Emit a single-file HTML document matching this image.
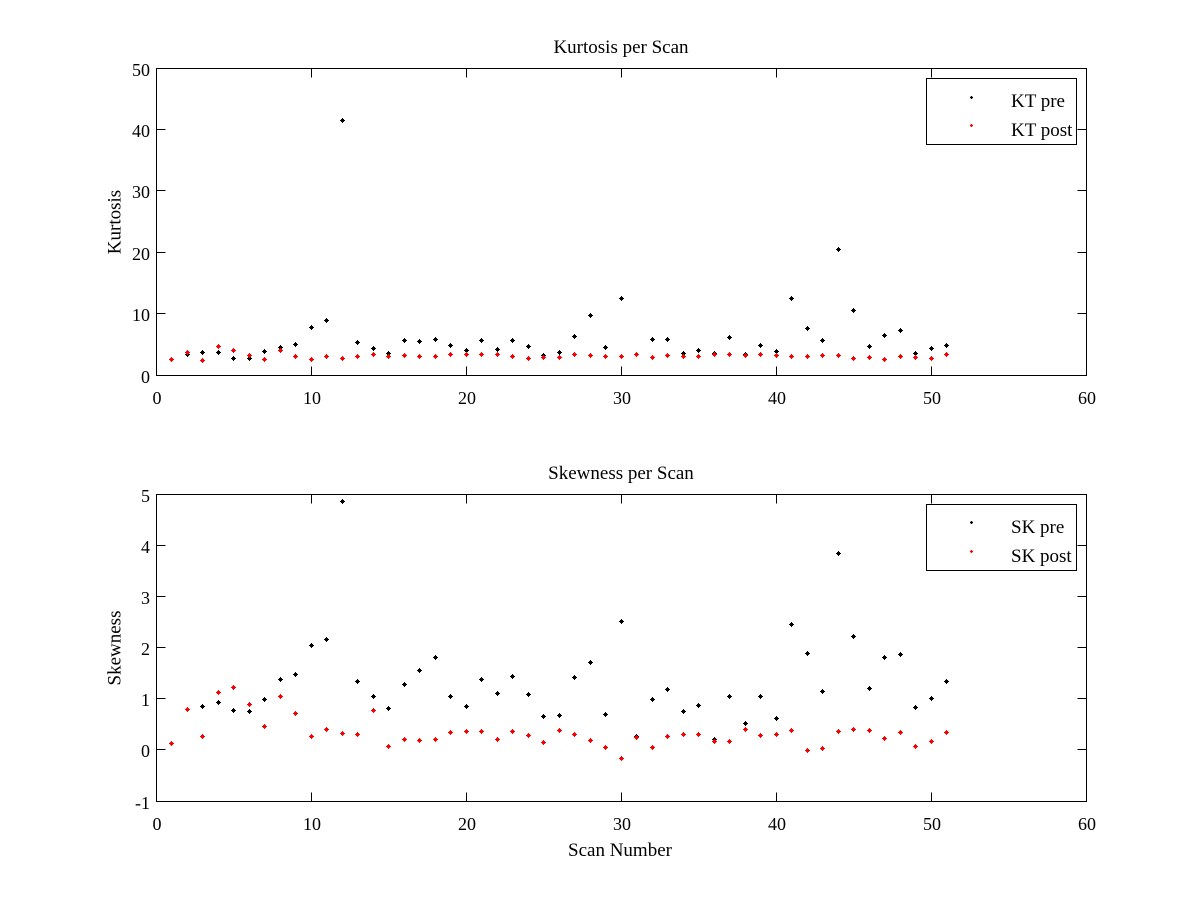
<!DOCTYPE html>
<html>
<head>
<meta charset="utf-8">
<style>
html,body{margin:0;padding:0;background:#fff;}
svg{display:block;}
text{font-family:"Liberation Serif","Times New Roman",serif;fill:#000;}
.tk{font-size:18px;}
.lb{font-size:19px;}
</style>
</head>
<body>
<svg width="1200" height="900" viewBox="0 0 1200 900" xmlns="http://www.w3.org/2000/svg">
<defs>
<path id="m" d="M-2.5,-0.5h5v1h-5zM-0.5,-2.5h1v5h-1zM-1.5,-1.5h3v3h-3z"/>
<path id="ms" d="M-1.5,-0.5h3v1h-3zM-0.5,-1.5h1v3h-1zM-1,-1h2v2h-2z"/>
</defs>
<rect x="0" y="0" width="1200" height="900" fill="#fff"/>

<g shape-rendering="crispEdges" stroke="#000" stroke-width="1" fill="none">
<rect x="156.5" y="68.5" width="930" height="307"/>
<path d="M311.5,375.5v-9M466.5,375.5v-9M621.5,375.5v-9M776.5,375.5v-9M931.5,375.5v-9M311.5,68.5v9M466.5,68.5v9M621.5,68.5v9M776.5,68.5v9M931.5,68.5v9"/>
<path d="M156.5,313.5h9M156.5,252.5h9M156.5,190.5h9M156.5,129.5h9M1086.5,313.5h-9M1086.5,252.5h-9M1086.5,190.5h-9M1086.5,129.5h-9"/>
<rect x="156.5" y="494.5" width="930" height="307"/>
<path d="M311.5,801.5v-9M466.5,801.5v-9M621.5,801.5v-9M776.5,801.5v-9M931.5,801.5v-9M311.5,494.5v9M466.5,494.5v9M621.5,494.5v9M776.5,494.5v9M931.5,494.5v9"/>
<path d="M156.5,545.5h9M156.5,596.5h9M156.5,647.5h9M156.5,698.5h9M156.5,749.5h9M1086.5,545.5h-9M1086.5,596.5h-9M1086.5,647.5h-9M1086.5,698.5h-9M1086.5,749.5h-9"/>
</g>

<g class="tk" text-anchor="end">
<text x="150" y="76">50</text>
<text x="150" y="137">40</text>
<text x="150" y="198">30</text>
<text x="150" y="260">20</text>
<text x="150" y="321">10</text>
<text x="150" y="383">0</text>
<text x="150" y="502">5</text>
<text x="150" y="553">4</text>
<text x="150" y="604">3</text>
<text x="150" y="655">2</text>
<text x="150" y="706">1</text>
<text x="150" y="757">0</text>
<text x="150" y="809">-1</text>
</g>
<g class="tk" text-anchor="middle">
<text x="157" y="404">0</text>
<text x="312" y="404">10</text>
<text x="467" y="404">20</text>
<text x="622" y="404">30</text>
<text x="777" y="404">40</text>
<text x="932" y="404">50</text>
<text x="1087" y="404">60</text>
<text x="157" y="830">0</text>
<text x="312" y="830">10</text>
<text x="467" y="830">20</text>
<text x="622" y="830">30</text>
<text x="777" y="830">40</text>
<text x="932" y="830">50</text>
<text x="1087" y="830">60</text>
</g>

<text class="lb" x="621" y="53" text-anchor="middle">Kurtosis per Scan</text>
<text class="lb" x="0" y="0" text-anchor="middle" transform="translate(120.5,222) rotate(-90)">Kurtosis</text>
<text class="lb" x="621" y="479" text-anchor="middle">Skewness per Scan</text>
<text class="lb" x="620" y="856" text-anchor="middle">Scan Number</text>
<text class="lb" x="0" y="0" text-anchor="middle" transform="translate(120.5,648) rotate(-90)">Skewness</text>

<g fill="#000" shape-rendering="crispEdges">
<use href="#m" x="171.5" y="359.5"/><use href="#m" x="187.5" y="354.5"/><use href="#m" x="202.5" y="352.5"/><use href="#m" x="218.5" y="352.5"/><use href="#m" x="233.5" y="358.5"/>
<use href="#m" x="249.5" y="358.5"/><use href="#m" x="264.5" y="351.5"/><use href="#m" x="280.5" y="347.5"/><use href="#m" x="295.5" y="344.5"/><use href="#m" x="311.5" y="327.5"/>
<use href="#m" x="326.5" y="320.5"/><use href="#m" x="342.5" y="120.5"/><use href="#m" x="357.5" y="342.5"/><use href="#m" x="373.5" y="348.5"/><use href="#m" x="388.5" y="353.5"/>
<use href="#m" x="404.5" y="340.5"/><use href="#m" x="419.5" y="341.5"/><use href="#m" x="435.5" y="339.5"/><use href="#m" x="450.5" y="345.5"/><use href="#m" x="466.5" y="350.5"/>
<use href="#m" x="481.5" y="340.5"/><use href="#m" x="497.5" y="349.5"/><use href="#m" x="512.5" y="340.5"/><use href="#m" x="528.5" y="346.5"/><use href="#m" x="543.5" y="355.5"/>
<use href="#m" x="559.5" y="352.5"/><use href="#m" x="574.5" y="336.5"/><use href="#m" x="590.5" y="315.5"/><use href="#m" x="605.5" y="347.5"/><use href="#m" x="621.5" y="298.5"/>
<use href="#m" x="636.5" y="354.5"/><use href="#m" x="652.5" y="339.5"/><use href="#m" x="667.5" y="339.5"/><use href="#m" x="683.5" y="353.5"/><use href="#m" x="698.5" y="350.5"/>
<use href="#m" x="714.5" y="353.5"/><use href="#m" x="729.5" y="337.5"/><use href="#m" x="745.5" y="354.5"/><use href="#m" x="760.5" y="345.5"/><use href="#m" x="776.5" y="351.5"/>
<use href="#m" x="791.5" y="298.5"/><use href="#m" x="807.5" y="328.5"/><use href="#m" x="822.5" y="340.5"/><use href="#m" x="838.5" y="249.5"/><use href="#m" x="853.5" y="310.5"/>
<use href="#m" x="869.5" y="346.5"/><use href="#m" x="884.5" y="335.5"/><use href="#m" x="900.5" y="330.5"/><use href="#m" x="915.5" y="353.5"/><use href="#m" x="931.5" y="348.5"/>
<use href="#m" x="946.5" y="345.5"/>
</g>
<g fill="#ff0000" shape-rendering="crispEdges">
<use href="#m" x="171.5" y="359.5"/><use href="#m" x="187.5" y="352.5"/><use href="#m" x="202.5" y="360.5"/><use href="#m" x="218.5" y="346.5"/><use href="#m" x="233.5" y="350.5"/>
<use href="#m" x="249.5" y="355.5"/><use href="#m" x="264.5" y="359.5"/><use href="#m" x="280.5" y="350.5"/><use href="#m" x="295.5" y="356.5"/><use href="#m" x="311.5" y="359.5"/>
<use href="#m" x="326.5" y="356.5"/><use href="#m" x="342.5" y="358.5"/><use href="#m" x="357.5" y="356.5"/><use href="#m" x="373.5" y="354.5"/><use href="#m" x="388.5" y="356.5"/>
<use href="#m" x="404.5" y="355.5"/><use href="#m" x="419.5" y="356.5"/><use href="#m" x="435.5" y="356.5"/><use href="#m" x="450.5" y="354.5"/><use href="#m" x="466.5" y="354.5"/>
<use href="#m" x="481.5" y="354.5"/><use href="#m" x="497.5" y="354.5"/><use href="#m" x="512.5" y="356.5"/><use href="#m" x="528.5" y="358.5"/><use href="#m" x="543.5" y="357.5"/>
<use href="#m" x="559.5" y="357.5"/><use href="#m" x="574.5" y="354.5"/><use href="#m" x="590.5" y="355.5"/><use href="#m" x="605.5" y="356.5"/><use href="#m" x="621.5" y="356.5"/>
<use href="#m" x="636.5" y="354.5"/><use href="#m" x="652.5" y="357.5"/><use href="#m" x="667.5" y="355.5"/><use href="#m" x="683.5" y="356.5"/><use href="#m" x="698.5" y="356.5"/>
<use href="#m" x="714.5" y="354.5"/><use href="#m" x="729.5" y="354.5"/><use href="#m" x="745.5" y="355.5"/><use href="#m" x="760.5" y="354.5"/><use href="#m" x="776.5" y="355.5"/>
<use href="#m" x="791.5" y="356.5"/><use href="#m" x="807.5" y="356.5"/><use href="#m" x="822.5" y="355.5"/><use href="#m" x="838.5" y="355.5"/><use href="#m" x="853.5" y="358.5"/>
<use href="#m" x="869.5" y="357.5"/><use href="#m" x="884.5" y="359.5"/><use href="#m" x="900.5" y="356.5"/><use href="#m" x="915.5" y="357.5"/><use href="#m" x="931.5" y="358.5"/>
<use href="#m" x="946.5" y="354.5"/>
</g>

<rect x="926.5" y="78.5" width="150" height="66" fill="#fff" stroke="#000" stroke-width="1" shape-rendering="crispEdges"/>
<use href="#ms" x="971.5" y="97.5" fill="#000" shape-rendering="crispEdges"/>
<use href="#ms" x="971.5" y="125.5" fill="#ff0000" shape-rendering="crispEdges"/>
<text class="lb" x="1011" y="107">KT pre</text>
<text class="lb" x="1011" y="136">KT post</text>

<g fill="#000" shape-rendering="crispEdges">
<use href="#m" x="171.5" y="743.5"/><use href="#m" x="187.5" y="709.5"/><use href="#m" x="202.5" y="706.5"/><use href="#m" x="218.5" y="702.5"/><use href="#m" x="233.5" y="710.5"/>
<use href="#m" x="249.5" y="711.5"/><use href="#m" x="264.5" y="699.5"/><use href="#m" x="280.5" y="679.5"/><use href="#m" x="295.5" y="674.5"/><use href="#m" x="311.5" y="645.5"/>
<use href="#m" x="326.5" y="639.5"/><use href="#m" x="342.5" y="501.5"/><use href="#m" x="357.5" y="681.5"/><use href="#m" x="373.5" y="696.5"/><use href="#m" x="388.5" y="708.5"/>
<use href="#m" x="404.5" y="684.5"/><use href="#m" x="419.5" y="670.5"/><use href="#m" x="435.5" y="657.5"/><use href="#m" x="450.5" y="696.5"/><use href="#m" x="466.5" y="706.5"/>
<use href="#m" x="481.5" y="679.5"/><use href="#m" x="497.5" y="693.5"/><use href="#m" x="512.5" y="676.5"/><use href="#m" x="528.5" y="694.5"/><use href="#m" x="543.5" y="716.5"/>
<use href="#m" x="559.5" y="715.5"/><use href="#m" x="574.5" y="677.5"/><use href="#m" x="590.5" y="662.5"/><use href="#m" x="605.5" y="714.5"/><use href="#m" x="621.5" y="621.5"/>
<use href="#m" x="636.5" y="736.5"/><use href="#m" x="652.5" y="699.5"/><use href="#m" x="667.5" y="689.5"/><use href="#m" x="683.5" y="711.5"/><use href="#m" x="698.5" y="705.5"/>
<use href="#m" x="714.5" y="739.5"/><use href="#m" x="729.5" y="696.5"/><use href="#m" x="745.5" y="723.5"/><use href="#m" x="760.5" y="696.5"/><use href="#m" x="776.5" y="718.5"/>
<use href="#m" x="791.5" y="624.5"/><use href="#m" x="807.5" y="653.5"/><use href="#m" x="822.5" y="691.5"/><use href="#m" x="838.5" y="553.5"/><use href="#m" x="853.5" y="636.5"/>
<use href="#m" x="869.5" y="688.5"/><use href="#m" x="884.5" y="657.5"/><use href="#m" x="900.5" y="654.5"/><use href="#m" x="915.5" y="707.5"/><use href="#m" x="931.5" y="698.5"/>
<use href="#m" x="946.5" y="681.5"/>
</g>
<g fill="#ff0000" shape-rendering="crispEdges">
<use href="#m" x="171.5" y="743.5"/><use href="#m" x="187.5" y="709.5"/><use href="#m" x="202.5" y="736.5"/><use href="#m" x="218.5" y="692.5"/><use href="#m" x="233.5" y="687.5"/>
<use href="#m" x="249.5" y="704.5"/><use href="#m" x="264.5" y="726.5"/><use href="#m" x="280.5" y="696.5"/><use href="#m" x="295.5" y="713.5"/><use href="#m" x="311.5" y="736.5"/>
<use href="#m" x="326.5" y="729.5"/><use href="#m" x="342.5" y="733.5"/><use href="#m" x="357.5" y="734.5"/><use href="#m" x="373.5" y="710.5"/><use href="#m" x="388.5" y="746.5"/>
<use href="#m" x="404.5" y="739.5"/><use href="#m" x="419.5" y="740.5"/><use href="#m" x="435.5" y="739.5"/><use href="#m" x="450.5" y="732.5"/><use href="#m" x="466.5" y="731.5"/>
<use href="#m" x="481.5" y="731.5"/><use href="#m" x="497.5" y="739.5"/><use href="#m" x="512.5" y="731.5"/><use href="#m" x="528.5" y="735.5"/><use href="#m" x="543.5" y="742.5"/>
<use href="#m" x="559.5" y="730.5"/><use href="#m" x="574.5" y="734.5"/><use href="#m" x="590.5" y="740.5"/><use href="#m" x="605.5" y="747.5"/><use href="#m" x="621.5" y="758.5"/>
<use href="#m" x="636.5" y="737.5"/><use href="#m" x="652.5" y="747.5"/><use href="#m" x="667.5" y="736.5"/><use href="#m" x="683.5" y="734.5"/><use href="#m" x="698.5" y="734.5"/>
<use href="#m" x="714.5" y="741.5"/><use href="#m" x="729.5" y="741.5"/><use href="#m" x="745.5" y="729.5"/><use href="#m" x="760.5" y="735.5"/><use href="#m" x="776.5" y="734.5"/>
<use href="#m" x="791.5" y="730.5"/><use href="#m" x="807.5" y="750.5"/><use href="#m" x="822.5" y="748.5"/><use href="#m" x="838.5" y="731.5"/><use href="#m" x="853.5" y="729.5"/>
<use href="#m" x="869.5" y="730.5"/><use href="#m" x="884.5" y="738.5"/><use href="#m" x="900.5" y="732.5"/><use href="#m" x="915.5" y="746.5"/><use href="#m" x="931.5" y="741.5"/>
<use href="#m" x="946.5" y="732.5"/>
</g>

<rect x="926.5" y="504.5" width="150" height="66" fill="#fff" stroke="#000" stroke-width="1" shape-rendering="crispEdges"/>
<use href="#ms" x="971.5" y="522.5" fill="#000" shape-rendering="crispEdges"/>
<use href="#ms" x="971.5" y="551.5" fill="#ff0000" shape-rendering="crispEdges"/>
<text class="lb" x="1011" y="533">SK pre</text>
<text class="lb" x="1011" y="562">SK post</text>
</svg>
</body>
</html>
